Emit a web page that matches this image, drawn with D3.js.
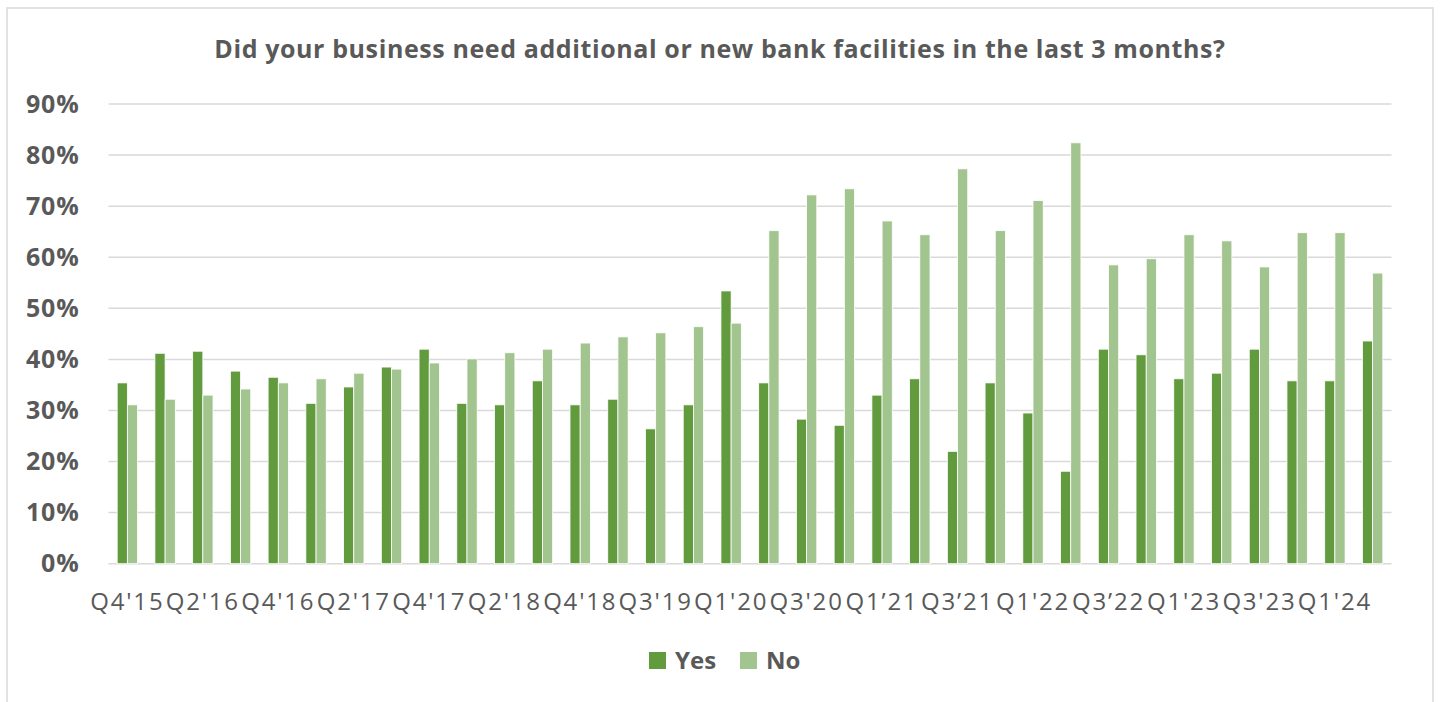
<!DOCTYPE html>
<html>
<head>
<meta charset="utf-8">
<script src="https://cdn.jsdelivr.net/npm/d3@7"></script>
<style>
  body { margin: 0; background: #fff; }
  text { font-family: 'Open Sans', sans-serif; fill: #595959; }
</style>
</head>
<body>
<svg id="chart" width="1441" height="702"></svg>
<script>
'use strict'

const quarters = ["Q4'15", "Q1'16", "Q2'16", "Q3'16", "Q4'16", "Q1'17", "Q2'17", "Q3'17", "Q4'17",
  "Q1'18", "Q2'18", "Q3'18", "Q4'18", "Q2'19", "Q3'19", "Q4'19", "Q1'20", "Q2'20", "Q3'20",
  "Q4'20", "Q1\u201921", "Q2'21", "Q3\u201921", "Q4'21", "Q1'22", "Q2'22", "Q3\u201922", "Q4'22",
  "Q1'23", "Q2'23", "Q3'23", "Q4'23", "Q1'24", "Q2'24"]
const yes = [35.4, 41.2, 41.6, 37.7, 36.5, 31.4, 34.6, 38.5, 42.0, 31.4, 31.1, 35.8, 31.1, 32.2,
  26.4, 31.1, 53.4, 35.4, 28.3, 27.1, 33.0, 36.2, 22.0, 35.4, 29.5, 18.1, 42.0, 40.9, 36.2,
  37.3, 42.0, 35.8, 35.8, 43.6]
const no = [31.1, 32.2, 33.0, 34.2, 35.4, 36.2, 37.3, 38.1, 39.3, 40.1, 41.3, 42.0, 43.2, 44.4,
  45.2, 46.4, 47.1, 65.2, 72.2, 73.4, 67.1, 64.4, 77.3, 65.2, 71.1, 82.4, 58.5, 59.7, 64.4,
  63.2, 58.1, 64.8, 64.8, 56.9]
const seriesNames = ['Yes', 'No']
const yTicks = [0, 10, 20, 30, 40, 50, 60, 70, 80, 90]
const title = 'Did your business need additional or new bank facilities in the last 3 months?'

const colors = {Yes: '#629a3e', No: '#a2c48f'}
const grid = '#d9d9d9'

const svg = d3.select('#chart')

// outer chart frame
svg.append('rect')
  .attr('x', 7).attr('y', 8)
  .attr('width', 1426).attr('height', 720)
  .attr('fill', 'none')
  .attr('stroke', grid)
  .attr('stroke-width', 1.5)

svg.append('text')
  .attr('x', 720).attr('y', 58)
  .attr('text-anchor', 'middle')
  .style('font-size', '25px')
  .style('font-weight', 'bold')
  .style('letter-spacing', '0.6px')
  .text(title)

const plotLeft = 108.5
const plotRight = 1391.5
const plotTop = 104
const plotBottom = 563.7

const x = d3.scaleBand()
  .domain(quarters)
  .range([plotLeft, plotRight])
  .paddingInner(0.46)
  .paddingOuter(0.23)
const x1 = d3.scaleBand()
  .domain(seriesNames)
  .range([0, x.bandwidth()])
const y = d3.scaleLinear()
  .domain([0, 90])
  .range([plotBottom, plotTop])

// gridlines
svg.append('g')
  .selectAll('line')
  .data(yTicks)
  .join('line')
  .attr('x1', plotLeft).attr('x2', plotRight)
  .attr('y1', d => y(d)).attr('y2', d => y(d))
  .attr('stroke', grid)
  .attr('stroke-width', 1.5)

const yAxis = svg.append('g')
  .attr('transform', `translate(${plotLeft - 29},0)`)
  .call(d3.axisLeft(y).tickValues(yTicks).tickSize(0).tickFormat(d => d + '%'))
yAxis.select('.domain').remove()
yAxis.selectAll('text')
  .attr('x', 0)
  .style('font-family', "'Open Sans', sans-serif")
  .style('font-size', '25px')
  .style('font-weight', 'bold')
  .style('letter-spacing', '0.8px')
  .style('fill', '#595959')

const rows = quarters.map((q, i) => ({q, values: [{key: 'Yes', v: yes[i]}, {key: 'No', v: no[i]}]}))

svg.append('g')
  .selectAll('g')
  .data(rows)
  .join('g')
  .attr('transform', d => `translate(${x(d.q)},0)`)
  .selectAll('rect')
  .data(d => d.values)
  .join('rect')
  .attr('x', d => x1(d.key))
  .attr('width', x1.bandwidth())
  .attr('y', d => y(d.v))
  .attr('height', d => y(0) - y(d.v))
  .attr('fill', d => colors[d.key])
  .attr('stroke', '#fff')
  .attr('stroke-width', 0.8)

const xAxis = svg.append('g')
  .attr('transform', `translate(0,${plotBottom})`)
  .call(d3.axisBottom(x)
    .tickValues(quarters.filter((d, i) => i % 2 === 0))
    .tickSize(0)
    .tickPadding(29))
xAxis.select('.domain').remove()
xAxis.selectAll('text')
  .style('font-family', "'Open Sans', sans-serif")
  .style('font-size', '24px')
  .style('letter-spacing', '1.8px')
  .style('fill', '#595959')

// legend
const legend = svg.append('g')
  .selectAll('g')
  .data(seriesNames)
  .join('g')
  .attr('transform', (d, i) => `translate(${[649, 740][i]},652)`)
legend.append('rect')
  .attr('width', 17).attr('height', 17)
  .attr('fill', d => colors[d])
legend.append('text')
  .attr('x', 26).attr('y', 17)
  .style('font-size', '24px')
  .style('font-weight', 'bold')
  .text(d => d)
</script>
</body>
</html>
